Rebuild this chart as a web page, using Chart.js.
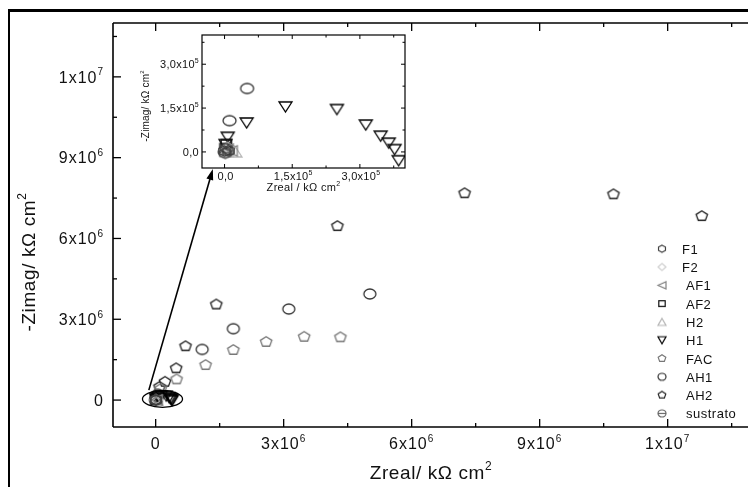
<!DOCTYPE html>
<html>
<head>
<meta charset="utf-8">
<script src="https://cdn.jsdelivr.net/npm/chart.js@4/dist/chart.umd.min.js"></script>
<style>
  body { margin: 0; background: #fff; }
  #wrap { position: relative; width: 748px; height: 487px; overflow: hidden; background: #fff; }
  #wrap canvas { position: absolute; left: 0; top: 0; }
</style>
</head>
<body>
<div id="wrap">
  <canvas id="mainChart" width="760" height="487"></canvas>
  <canvas id="insetChart" width="748" height="487"></canvas>
</div>
<script>
// series (Zreal, -Zimag in kOhm cm2)
var seriesNames = ['F1', 'F2', 'AF1', 'AF2', 'H2', 'H1', 'FAC', 'AH1', 'AH2', 'sustrato'];

var f1X = [0, 4e3, 9e3, 1.5e3];
var f1Y = [3e3, 1.2e4, 4e3, -5e3];
var f2X = [2e3, 7e3];
var f2Y = [6e3, 1.5e4];
var af1X = [5e3, 1.4e4];
var af1Y = [1e4, 4e3];
var af2X = [1e3, 4e3, 8e3];
var af2Y = [1.5e4, 2.8e4, 6e3];
var h2X = [5e3, 2.4e4];
var h2Y = [2e3, 0];
var h1X = [2e3, 7e3, 4.9e4, 1.35e5, 2.49e5, 3.13e5, 3.46e5, 3.64e5, 3.77e5, 3.86e5];
var h1Y = [2.5e4, 5.0e4, 9.9e4, 1.54e5, 1.45e5, 9.2e4, 5.4e4, 3.0e4, 8e3, -3.0e4];
var facX = [1.2e5, 4.9e5, 1.17e6, 1.82e6, 2.59e6, 3.48e6, 4.33e6];
var facY = [4.2e5, 7.7e5, 1.30e6, 1.86e6, 2.16e6, 2.35e6, 2.33e6];
var ah1X = [1.1e4, 5.0e4, 1.09e6, 1.82e6, 3.12e6, 5.02e6];
var ah1Y = [1.07e5, 2.17e5, 1.88e6, 2.65e6, 3.38e6, 3.94e6];
var ah2X = [9e4, 2.2e5, 4.8e5, 7.0e5, 1.42e6, 4.26e6, 7.24e6, 1.073e7, 1.28e7];
var ah2Y = [4.9e5, 6.8e5, 1.18e6, 2.0e6, 3.55e6, 6.46e6, 7.68e6, 7.64e6, 6.83e6];
var sustratoX = [0, 3e3];
var sustratoY = [0, 8e3];

var seriesX = [f1X, f2X, af1X, af2X, h2X, h1X, facX, ah1X, ah2X, sustratoX];
var seriesY = [f1Y, f2Y, af1Y, af2Y, h2Y, h1Y, facY, ah1Y, ah2Y, sustratoY];

// ticks
var mainTicks = [0, 3e6, 6e6, 9e6, 12e6];
var mainTickLabels = ['0', '3x10^6', '6x10^6', '9x10^6', '1x10^7'];
var insetTicks = [0, 1.5e5, 3e5];
var insetTickLabels = ['0,0', '1,5x10^5', '3,0x10^5'];

var seriesStyles = {
  F1: { shape: 'hexagon', color: '#404040' },
  F2: { shape: 'diamond', color: '#d0d0d0' },
  AF1: { shape: 'triLeft', color: '#808080' },
  AF2: { shape: 'square', color: '#111111' },
  H2: { shape: 'triUp', color: '#b4b4b4' },
  H1: { shape: 'triDown', color: '#000000' },
  FAC: { shape: 'pentagon', color: '#777777' },
  AH1: { shape: 'circle', color: '#333333' },
  AH2: { shape: 'pentagon', color: '#222222' },
  sustrato: { shape: 'theta', color: '#666666' }
};

var FONT = '"Liberation Sans", Arial, sans-serif';

function makeMarker(shape, w, h, color, lw) {
  var c = document.createElement('canvas');
  c.width = Math.ceil(w + 4);
  c.height = Math.ceil(h + 4);
  var g = c.getContext('2d');
  var cx = c.width / 2, cy = c.height / 2, rx = w / 2, ry = h / 2;
  g.strokeStyle = color;
  g.lineWidth = lw;
  g.beginPath();
  var pts = null;
  if (shape === 'circle' || shape === 'theta') {
    g.ellipse(cx, cy, rx, ry, 0, 0, Math.PI * 2);
  } else if (shape === 'square') {
    g.rect(cx - rx * 0.8, cy - ry * 0.8, rx * 1.6, ry * 1.6);
  } else if (shape === 'triUp') {
    pts = [[0, -1], [1, 1], [-1, 1]];
  } else if (shape === 'triDown') {
    pts = [[-1, -1], [1, -1], [0, 1]];
  } else if (shape === 'triLeft') {
    pts = [[-1, 0], [1, -1], [1, 1]];
  } else if (shape === 'diamond') {
    pts = [[0, -1], [1, 0], [0, 1], [-1, 0]];
  } else {
    var n = shape === 'pentagon' ? 5 : 6;
    pts = [];
    for (var k = 0; k < n; k++) {
      var ang = -Math.PI / 2 + k * 2 * Math.PI / n;
      pts.push([Math.cos(ang), Math.sin(ang) * (n === 5 ? 1.05 : 1)]);
    }
  }
  if (pts) {
    pts.forEach(function (p, i) {
      var px = cx + p[0] * rx, py = cy + p[1] * ry;
      if (i === 0) g.moveTo(px, py); else g.lineTo(px, py);
    });
    g.closePath();
  }
  g.stroke();
  if (shape === 'theta') {
    g.beginPath();
    g.moveTo(cx - rx, cy);
    g.lineTo(cx + rx, cy);
    g.stroke();
  }
  return c;
}

function buildDatasets(w, h) {
  return seriesNames.map(function (name, i) {
    var st = seriesStyles[name];
    return {
      label: name,
      data: seriesX[i].map(function (x, j) { return { x: x, y: seriesY[i][j] }; }),
      pointStyle: makeMarker(st.shape, w, h, st.color, 1.3),
      pointRadius: 5,
      showLine: false,
      clip: 0
    };
  });
}

// text with an optional "^" superscript part
function supText(ctx, text, x, y, size, align, spacing) {
  var parts = text.split('^');
  var ss = Math.round(size * 0.62);
  ctx.letterSpacing = (spacing || 0) + 'px';
  ctx.font = size + 'px ' + FONT;
  var wb = ctx.measureText(parts[0]).width;
  var ws = 0;
  if (parts[1]) {
    ctx.font = ss + 'px ' + FONT;
    ws = ctx.measureText(parts[1]).width;
  }
  var x0 = align === 'center' ? x - (wb + ws) / 2 : (align === 'right' ? x - wb - ws : x);
  ctx.textAlign = 'left';
  ctx.textBaseline = 'alphabetic';
  ctx.font = size + 'px ' + FONT;
  ctx.fillText(parts[0], x0, y);
  if (parts[1]) {
    ctx.font = ss + 'px ' + FONT;
    ctx.fillText(parts[1], x0 + wb, y - size * 0.45);
  }
  ctx.letterSpacing = '0px';
}

function line(ctx, x1, y1, x2, y2) {
  ctx.beginPath();
  ctx.moveTo(x1, y1);
  ctx.lineTo(x2, y2);
  ctx.stroke();
}

// inward ticks on all sides of a chart area
function drawTicks(ctx, chart, ticks, major, minor, sides) {
  var a = chart.chartArea, xs = chart.scales.x, ys = chart.scales.y;
  var step = (ticks[1] - ticks[0]) / 2;
  ['x', 'y'].forEach(function (ax) {
    var sc = ax === 'x' ? xs : ys;
    for (var v = ticks[0] - 4 * step; v <= sc.max; v += step) {
      if (v < sc.min) continue;
      var len = Math.abs(Math.round(v / step) % 2) === 0 ? major : minor;
      var p = sc.getPixelForValue(v);
      if (ax === 'x') {
        if (sides.bottom) line(ctx, p, a.bottom, p, a.bottom - len);
        if (sides.top) line(ctx, p, a.top, p, a.top + len);
      } else {
        if (sides.left) line(ctx, a.left, p, a.left + len, p);
        if (sides.right) line(ctx, a.right, p, a.right - len, p);
      }
    }
  });
}

var mainDecor = {
  id: 'mainDecor',
  afterDraw: function (chart) {
    var ctx = chart.ctx, a = chart.chartArea, xs = chart.scales.x, ys = chart.scales.y;
    ctx.save();
    ctx.strokeStyle = '#000';
    ctx.fillStyle = '#000';
    // page frame
    ctx.lineWidth = 3;
    line(ctx, 8, 10.5, 760, 10.5);
    ctx.lineWidth = 2;
    line(ctx, 9, 9, 9, 487);
    // axes
    ctx.lineWidth = 1.6;
    line(ctx, a.left, a.top, a.left, a.bottom);
    line(ctx, a.left, a.bottom, a.right, a.bottom);
    line(ctx, a.left, a.top, a.right, a.top);
    ctx.lineWidth = 1.3;
    drawTicks(ctx, chart, mainTicks, 8, 4, { bottom: true, top: true, left: true });
    // tick labels
    ctx.fillStyle = '#111';
    mainTicks.forEach(function (v, i) {
      supText(ctx, mainTickLabels[i], xs.getPixelForValue(v), 449, 16, 'center', 1);
      supText(ctx, mainTickLabels[i], 104, ys.getPixelForValue(v) + 5.8, 16, 'right', 1);
    });
    // axis titles
    supText(ctx, 'Zreal/ k\u03A9 cm^2', (a.left + a.right) / 2 - 2, 479, 19, 'center', 0.6);
    ctx.save();
    ctx.translate(28, 262);
    ctx.rotate(-Math.PI / 2);
    supText(ctx, '-Zimag/ k\u03A9 cm^2', 0, 7, 19, 'center', 0.6);
    ctx.restore();
    // zoom ellipse and arrow towards the inset
    ctx.strokeStyle = '#000';
    ctx.lineWidth = 1.3;
    var ecx = xs.getPixelForValue(1.6e5), ecy = ys.getPixelForValue(4e4);
    var erx = xs.getPixelForValue(1.6e5 + 4.7e5) - ecx;
    var ery = ecy - ys.getPixelForValue(4e4 + 3.1e5);
    ctx.beginPath();
    ctx.ellipse(ecx, ecy, erx, ery, 0, 0, Math.PI * 2);
    ctx.stroke();
    var x1 = xs.getPixelForValue(-1.6e5), y1 = ys.getPixelForValue(3.7e5);
    var x2 = xs.getPixelForValue(1.34e6), y2 = ys.getPixelForValue(8.58e6);
    var ang = Math.atan2(y2 - y1, x2 - x1);
    ctx.lineWidth = 1.6;
    line(ctx, x1, y1, x2 - 8 * Math.cos(ang), y2 - 8 * Math.sin(ang));
    ctx.beginPath();
    ctx.moveTo(x2, y2);
    ctx.lineTo(x2 - 11 * Math.cos(ang) + 3.5 * Math.sin(ang), y2 - 11 * Math.sin(ang) - 3.5 * Math.cos(ang));
    ctx.lineTo(x2 - 11 * Math.cos(ang) - 3.5 * Math.sin(ang), y2 - 11 * Math.sin(ang) + 3.5 * Math.cos(ang));
    ctx.closePath();
    ctx.fillStyle = '#000';
    ctx.fill();
    // legend
    seriesNames.forEach(function (name, i) {
      var st = seriesStyles[name];
      var ly = 248.7 + i * 18.3;
      var m = makeMarker(st.shape, 8, 7, st.color, 1.2);
      ctx.drawImage(m, 662 - m.width / 2, ly - m.height / 2);
      ctx.fillStyle = '#111';
      ctx.font = '13px ' + FONT;
      ctx.textAlign = 'left';
      ctx.textBaseline = 'alphabetic';
      ctx.letterSpacing = '0.5px';
      ctx.fillText(name, i < 2 ? 682 : 686, ly + 5);
      ctx.letterSpacing = '0px';
    });
    ctx.restore();
  }
};

var insetDecor = {
  id: 'insetDecor',
  beforeDraw: function (chart) {
    var ctx = chart.ctx, a = chart.chartArea;
    ctx.save();
    ctx.fillStyle = '#fff';
    ctx.fillRect(a.left, a.top, a.right - a.left, a.bottom - a.top);
    ctx.restore();
  },
  afterDraw: function (chart) {
    var ctx = chart.ctx, a = chart.chartArea, xs = chart.scales.x, ys = chart.scales.y;
    ctx.save();
    ctx.strokeStyle = '#000';
    ctx.lineWidth = 1.2;
    ctx.strokeRect(a.left, a.top, a.right - a.left, a.bottom - a.top);
    ctx.lineWidth = 1;
    drawTicks(ctx, chart, insetTicks, 4, 2.5, { bottom: true, top: true, left: true, right: true });
    ctx.fillStyle = '#111';
    insetTicks.forEach(function (v, i) {
      supText(ctx, insetTickLabels[i], xs.getPixelForValue(v) + 1, 180, 11, 'center', 0.3);
      supText(ctx, insetTickLabels[i], a.left - 3, ys.getPixelForValue(v) + 4, 11, 'right', 0.3);
    });
    supText(ctx, 'Zreal / k\u03A9 cm^2', (a.left + a.right) / 2, 191, 11, 'center', 0.3);
    ctx.translate(145, 106);
    ctx.rotate(-Math.PI / 2);
    supText(ctx, '-Zimag/ k\u03A9 cm^2', 0, 3.5, 10, 'center', 0.2);
    ctx.restore();
  }
};

function chartOptions(xmin, xmax, ymin, ymax, pad) {
  return {
    responsive: false,
    animation: false,
    events: [],
    layout: { padding: pad },
    plugins: { legend: { display: false }, tooltip: { enabled: false } },
    scales: {
      x: { type: 'linear', min: xmin, max: xmax, display: false },
      y: { type: 'linear', min: ymin, max: ymax, display: false }
    }
  };
}

new Chart(document.getElementById('mainChart').getContext('2d'), {
  type: 'scatter',
  data: { datasets: buildDatasets(12, 10) },
  options: chartOptions(-1e6, 14e6, -1e6, 14e6, { left: 113, top: 23, right: 7, bottom: 60 }),
  plugins: [mainDecor]
});

new Chart(document.getElementById('insetChart').getContext('2d'), {
  type: 'scatter',
  data: { datasets: buildDatasets(13, 10) },
  options: chartOptions(-0.5e5, 4.0e5, -0.55e5, 4.0e5, { left: 202, top: 35, right: 343, bottom: 319 }),
  plugins: [insetDecor]
});
</script>
</body>
</html>
